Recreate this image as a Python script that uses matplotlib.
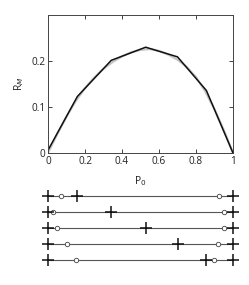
import matplotlib
matplotlib.use("Agg")
import matplotlib.pyplot as plt

plt.rcParams["font.family"] = ["Open Sans", "DejaVu Sans"]

# ----------------------------------------------------------------
# DATA
# ----------------------------------------------------------------
p_grey = [0.0, 0.05, 0.1, 0.15, 0.2, 0.25, 0.3, 0.35, 0.4, 0.45, 0.5,
          0.55, 0.6, 0.65, 0.7, 0.75, 0.8, 0.85, 0.9, 0.95, 1.0]
r_grey = [0.0, 0.041, 0.079, 0.113, 0.141, 0.164, 0.183, 0.198, 0.210, 0.219, 0.224,
          0.226, 0.222, 0.214, 0.203, 0.187, 0.165, 0.134, 0.095, 0.050, 0.0]

p_black = [0.0, 0.159, 0.342, 0.528, 0.70, 0.856, 1.0]
r_black = [0.006, 0.123, 0.2015, 0.230, 0.209, 0.136, 0.0]

# bottom panel: one row per interior breakpoint
row_cross = [0.159, 0.342, 0.528, 0.703, 0.856]
row_circle_lo = [0.072, 0.027, 0.05, 0.10, 0.151]
row_circle_hi = [0.924, 0.95, 0.95, 0.919, 0.895]

xticks = [0, 0.2, 0.4, 0.6, 0.8, 1]
xticklabels = ["0", "0.2", "0.4", "0.6", "0.8", "1"]
yticks = [0, 0.1, 0.2]
yticklabels = ["0", "0.1", "0.2"]

W, H = 249, 285
fig = plt.figure(figsize=(W / 100, H / 100), dpi=100)

# ---------------- top panel ----------------
ax = fig.add_axes([48 / W, 1 - 153 / H, 185 / W, 138 / H])
ax.plot(p_grey, r_grey, color="#c4c4c4", lw=1.6)
ax.plot(p_black, r_black, color="#111111", lw=1.1)
ax.set_xlim(0, 1)
ax.set_ylim(0, 0.3)
ax.set_xticks(xticks)
ax.set_xticklabels(xticklabels)
ax.set_yticks(yticks)
ax.set_yticklabels(yticklabels)
ax.tick_params(direction="in", length=3, width=0.6, labelsize=7.2, pad=2,
               top=True, right=True, colors="#222222")
for s in ax.spines.values():
    s.set_color("#444444")
    s.set_linewidth(0.7)
ax.set_xlabel("P$_0$", fontsize=7.5, labelpad=5, color="#222222")
ax.set_ylabel("R$_M$", fontsize=7.5, labelpad=4, color="#222222")

# ---------------- bottom panel ----------------
bx = fig.add_axes([48 / W, 1 - 268 / H, 185 / W, 80 / H])
for i, (xc, c_lo, c_hi) in enumerate(zip(row_cross, row_circle_lo, row_circle_hi)):
    y = i + 1
    bx.plot([0, 1], [y, y], color="#555555", lw=0.8, zorder=1)
    bx.plot([0, xc, 1], [y, y, y], ls="none", marker="+", ms=8, mew=1.1,
            color="#111111", zorder=3, clip_on=False)
    bx.plot([c_lo, c_hi], [y, y], ls="none", marker="o", ms=3.2, mew=0.6,
            mfc="white", mec="#444444", zorder=2)
bx.set_xlim(0, 1)
bx.set_ylim(5.5, 0.5)
bx.axis("off")

fig.savefig("out.png", dpi=100)
